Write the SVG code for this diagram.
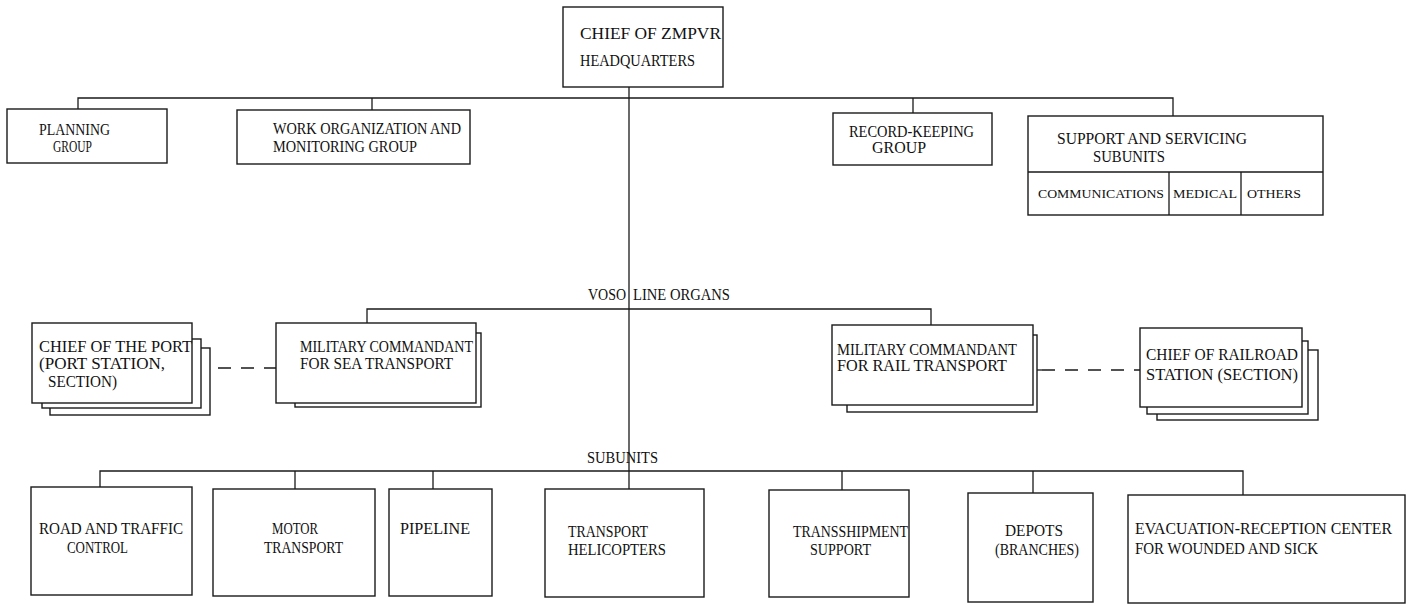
<svg xmlns="http://www.w3.org/2000/svg" width="1411" height="605" viewBox="0 0 1411 605">
<style>
.box{fill:#fff;stroke:#1a1a1a;stroke-width:1.4}
.ln{stroke:#1a1a1a;stroke-width:1.3;fill:none}
.dash{stroke:#1a1a1a;stroke-width:1.3;fill:none;stroke-dasharray:13,10}
.t{font-family:"Liberation Serif","Times New Roman",serif;font-size:16px;fill:#111}
.s{font-size:13.5px}
</style>
<rect width="1411" height="605" fill="#fff"/>
<g id="connectors">
<path class="ln" d="M629,87 V489"/>
<path class="ln" d="M78,109 V98 H1173 V116"/>
<path class="ln" d="M372,98 V110"/>
<path class="ln" d="M913,98 V113"/>
<path class="ln" d="M367,323 V309 H931 V325"/>
<path class="ln" d="M100,487 V471 H1243 V495"/>
<path class="ln" d="M295,471 V489 M433,471 V489 M842,471 V490 M1033,471 V493"/>
<path class="ln" d="M192,368 H210"/>
<path class="dash" d="M218,368 H276"/>
<path class="ln" d="M1033,370 H1042"/>
<path class="dash" d="M1042,370 H1140"/>
</g>
<g id="chief-zmpvr">
<rect class="box" x="563" y="7" width="160" height="80"/>
<text class="t" x="580" y="39" textLength="141" lengthAdjust="spacingAndGlyphs">CHIEF OF ZMPVR</text>
<text class="t" x="580" y="66" textLength="115" lengthAdjust="spacingAndGlyphs">HEADQUARTERS</text>
</g>
<g id="planning">
<rect class="box" x="7" y="109" width="160" height="54"/>
<text class="t" x="39" y="135" textLength="71" lengthAdjust="spacingAndGlyphs">PLANNING</text>
<text class="t" x="53" y="152" textLength="39" lengthAdjust="spacingAndGlyphs">GROUP</text>
</g>
<g id="work-organization">
<rect class="box" x="237" y="110" width="233" height="54"/>
<text class="t" x="273" y="134" textLength="188" lengthAdjust="spacingAndGlyphs">WORK ORGANIZATION AND</text>
<text class="t" x="273" y="152" textLength="144" lengthAdjust="spacingAndGlyphs">MONITORING GROUP</text>
</g>
<g id="record-keeping">
<rect class="box" x="833" y="113" width="159" height="52"/>
<text class="t" x="849" y="137" textLength="125" lengthAdjust="spacingAndGlyphs">RECORD-KEEPING</text>
<text class="t" x="872" y="153" textLength="54" lengthAdjust="spacingAndGlyphs">GROUP</text>
</g>
<g id="support-servicing">
<rect class="box" x="1028" y="116" width="295" height="99"/>
<path class="ln" d="M1028,172 H1323 M1169,172 V215 M1241,172 V215"/>
<text class="t" x="1057" y="144" textLength="190" lengthAdjust="spacingAndGlyphs">SUPPORT AND SERVICING</text>
<text class="t" x="1093" y="162" textLength="72" lengthAdjust="spacingAndGlyphs">SUBUNITS</text>
<text class="t s" x="1038" y="198" textLength="126" lengthAdjust="spacingAndGlyphs">COMMUNICATIONS</text>
<text class="t s" x="1173" y="198" textLength="64" lengthAdjust="spacingAndGlyphs">MEDICAL</text>
<text class="t s" x="1247" y="198" textLength="54" lengthAdjust="spacingAndGlyphs">OTHERS</text>
</g>
<g id="voso-label">
<text class="t" x="588" y="300" textLength="38" lengthAdjust="spacingAndGlyphs">VOSO</text>
<text class="t" x="633" y="300" textLength="97" lengthAdjust="spacingAndGlyphs">LINE ORGANS</text>
</g>
<g id="chief-port">
<rect class="box" x="50" y="348" width="160" height="67"/>
<rect class="box" x="42" y="339" width="159" height="69"/>
<rect class="box" x="32" y="323" width="160" height="80"/>
<text class="t" x="39" y="352" textLength="153" lengthAdjust="spacingAndGlyphs">CHIEF OF THE PORT</text>
<text class="t" x="39" y="369" textLength="126" lengthAdjust="spacingAndGlyphs">(PORT STATION,</text>
<text class="t" x="48" y="387" textLength="69" lengthAdjust="spacingAndGlyphs">SECTION)</text>
</g>
<g id="sea-transport">
<rect class="box" x="295" y="333" width="186" height="74"/>
<rect class="box" x="276" y="323" width="200" height="80"/>
<text class="t" x="300" y="352" textLength="173" lengthAdjust="spacingAndGlyphs">MILITARY COMMANDANT</text>
<text class="t" x="300" y="369" textLength="153" lengthAdjust="spacingAndGlyphs">FOR SEA TRANSPORT</text>
</g>
<g id="rail-transport">
<rect class="box" x="847" y="335" width="190" height="77"/>
<rect class="box" x="832" y="325" width="201" height="80"/>
<text class="t" x="837" y="355" textLength="180" lengthAdjust="spacingAndGlyphs">MILITARY COMMANDANT</text>
<text class="t" x="837" y="371" textLength="170" lengthAdjust="spacingAndGlyphs">FOR RAIL TRANSPORT</text>
</g>
<g id="chief-railroad">
<rect class="box" x="1157" y="350" width="161" height="70"/>
<rect class="box" x="1147" y="341" width="161" height="73"/>
<rect class="box" x="1140" y="328" width="162" height="79"/>
<text class="t" x="1146" y="360" textLength="152" lengthAdjust="spacingAndGlyphs">CHIEF OF RAILROAD</text>
<text class="t" x="1146" y="380" textLength="152" lengthAdjust="spacingAndGlyphs">STATION (SECTION)</text>
</g>
<g id="subunits-label">
<text class="t" x="587" y="463" textLength="71" lengthAdjust="spacingAndGlyphs">SUBUNITS</text>
</g>
<g id="road-traffic">
<rect class="box" x="31" y="487" width="161" height="108"/>
<text class="t" x="39" y="534" textLength="144" lengthAdjust="spacingAndGlyphs">ROAD AND TRAFFIC</text>
<text class="t" x="67" y="553" textLength="61" lengthAdjust="spacingAndGlyphs">CONTROL</text>
</g>
<g id="motor-transport">
<rect class="box" x="213" y="489" width="162" height="107"/>
<text class="t" x="272" y="534" textLength="46" lengthAdjust="spacingAndGlyphs">MOTOR</text>
<text class="t" x="264" y="553" textLength="79" lengthAdjust="spacingAndGlyphs">TRANSPORT</text>
</g>
<g id="pipeline">
<rect class="box" x="389" y="489" width="103" height="107"/>
<text class="t" x="400" y="534" textLength="70" lengthAdjust="spacingAndGlyphs">PIPELINE</text>
</g>
<g id="transport-helicopters">
<rect class="box" x="545" y="489" width="159" height="108"/>
<text class="t" x="568" y="537" textLength="80" lengthAdjust="spacingAndGlyphs">TRANSPORT</text>
<text class="t" x="568" y="555" textLength="98" lengthAdjust="spacingAndGlyphs">HELICOPTERS</text>
</g>
<g id="transshipment">
<rect class="box" x="769" y="490" width="140" height="107"/>
<text class="t" x="793" y="537" textLength="115" lengthAdjust="spacingAndGlyphs">TRANSSHIPMENT</text>
<text class="t" x="810" y="555" textLength="61" lengthAdjust="spacingAndGlyphs">SUPPORT</text>
</g>
<g id="depots">
<rect class="box" x="968" y="493" width="125" height="109"/>
<text class="t" x="1005" y="536" textLength="58" lengthAdjust="spacingAndGlyphs">DEPOTS</text>
<text class="t" x="995" y="555" textLength="84" lengthAdjust="spacingAndGlyphs">(BRANCHES)</text>
</g>
<g id="evacuation-center">
<rect class="box" x="1128" y="495" width="277" height="108"/>
<text class="t" x="1135" y="534" textLength="257" lengthAdjust="spacingAndGlyphs">EVACUATION-RECEPTION CENTER</text>
<text class="t" x="1135" y="554" textLength="183" lengthAdjust="spacingAndGlyphs">FOR WOUNDED AND SICK</text>
</g>
</svg>
